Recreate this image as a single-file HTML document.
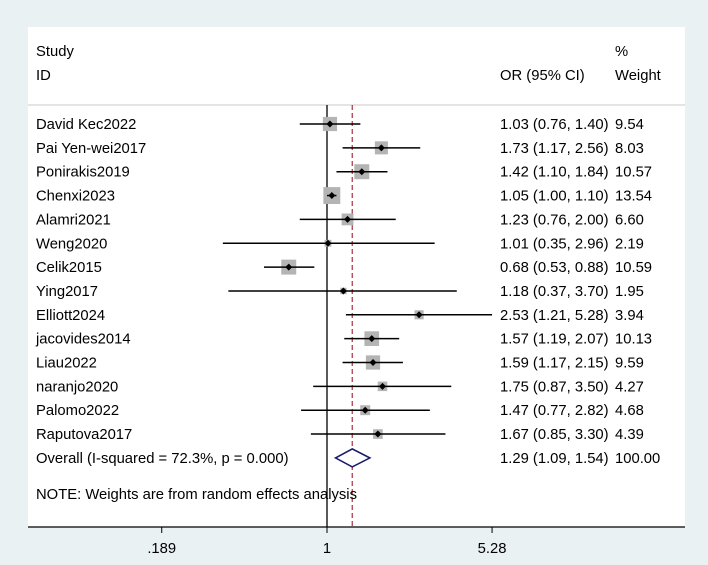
<!DOCTYPE html>
<html><head><meta charset="utf-8"><style>
body{margin:0;background:#eaf1f3;}
svg{display:block;font-family:"Liberation Sans",Arial,sans-serif;}
</style></head><body>
<svg id="chart" width="708" height="565">
<rect x="28" y="27" width="657" height="500" fill="#fff"/>
<line x1="28" y1="105" x2="685" y2="105" stroke="#c8c8c8"/>
<text x="36" y="56" font-size="14.8">Study</text>
<text x="36" y="80" font-size="14.8">ID</text>
<text x="500" y="80" font-size="14.8">OR (95% CI)</text>
<text x="615" y="56" font-size="14.8">%</text>
<text x="615" y="80" font-size="14.8">Weight</text>
<g id="g"></g>
</svg>
<script>
const studies=["David Kec2022","Pai Yen-wei2017","Ponirakis2019","Chenxi2023","Alamri2021","Weng2020","Celik2015","Ying2017","Elliott2024","jacovides2014","Liau2022","naranjo2020","Palomo2022","Raputova2017"];
const orVals=[1.03,1.73,1.42,1.05,1.23,1.01,0.68,1.18,2.53,1.57,1.59,1.75,1.47,1.67];
const lowVals=[0.76,1.17,1.10,1.00,0.76,0.35,0.53,0.37,1.21,1.19,1.17,0.87,0.77,0.85];
const highVals=[1.40,2.56,1.84,1.10,2.00,2.96,0.88,3.70,5.28,2.07,2.15,3.50,2.82,3.30];
const weights=[9.54,8.03,10.57,13.54,6.60,2.19,10.59,1.95,3.94,10.13,9.59,4.27,4.68,4.39];
const overall=[1.29,1.09,1.54];
const tickVals=[0.189,1,5.28];
const tickLabels=[".189","1","5.28"];
const NS="http://www.w3.org/2000/svg";
const g=document.getElementById('g');
const X=v=>327+99.2*Math.log(v);
const Y=i=>124+i*23.85;
const FS=14.8;
function el(t,a,txt){const e=document.createElementNS(NS,t);for(const k in a)e.setAttribute(k,a[k]);if(txt!==undefined)e.textContent=txt;g.appendChild(e);return e;}
const fmt=v=>v.toFixed(2);
let e;
e=el('line',{x1:X(1),y1:105,x2:X(1),y2:527,stroke:'#000','stroke-width':1.3});


e=el('line',{x1:X(overall[0]),y1:105,x2:X(overall[0]),y2:527,stroke:'#b04050','stroke-width':1.3,'stroke-dasharray':'5,3'});


studies.forEach((s,i)=>{
 const y=Y(i);
 e=el('text',{x:36,y:y+5,'font-size':FS},s);
 
 
 const sz=4.6*Math.sqrt(weights[i]);
 e=el('rect',{x:X(orVals[i])-sz/2,y:y-sz/2,width:sz,height:sz,fill:'#b4b4b4'});
 
 
 e=el('line',{x1:X(lowVals[i]),y1:y,x2:X(highVals[i]),y2:y,stroke:'#000','stroke-width':1.5});
 
 
 const cx=X(orVals[i]);
 e=el('polygon',{points:`${cx-3.5},${y} ${cx},${y-3.5} ${cx+3.5},${y} ${cx},${y+3.5}`,fill:'#000'});
 
 
 e=el('text',{x:500,y:y+5,'font-size':FS},fmt(orVals[i])+' ('+fmt(lowVals[i])+', '+fmt(highVals[i])+')');
 
 
 e=el('text',{x:615,y:y+5,'font-size':FS},fmt(weights[i]));
 
 
});
const oy=Y(14);
e=el('text',{x:36,y:oy+5,'font-size':FS},'Overall  (I-squared = 72.3%, p = 0.000)');


e=el('polygon',{points:`${X(overall[1])},${oy} ${X(overall[0])},${oy-9} ${X(overall[2])},${oy} ${X(overall[0])},${oy+9}`,fill:'#fff',stroke:'#1a1a6e','stroke-width':1.6});


e=el('text',{x:500,y:oy+5,'font-size':FS},fmt(overall[0])+' ('+fmt(overall[1])+', '+fmt(overall[2])+')');


e=el('text',{x:615,y:oy+5,'font-size':FS},'100.00');


e=el('text',{x:36,y:499,'font-size':FS},'NOTE: Weights are from random effects analysis');


e=el('line',{x1:28,y1:527,x2:685,y2:527,stroke:'#000','stroke-width':1.3});


tickVals.forEach((v,i)=>{
 e=el('line',{x1:X(v),y1:527,x2:X(v),y2:533,stroke:'#000'});
 
 
 e=el('text',{x:X(v),y:553,'font-size':FS,'text-anchor':'middle'},tickLabels[i]);
 
 
});
</script>
</body></html>
